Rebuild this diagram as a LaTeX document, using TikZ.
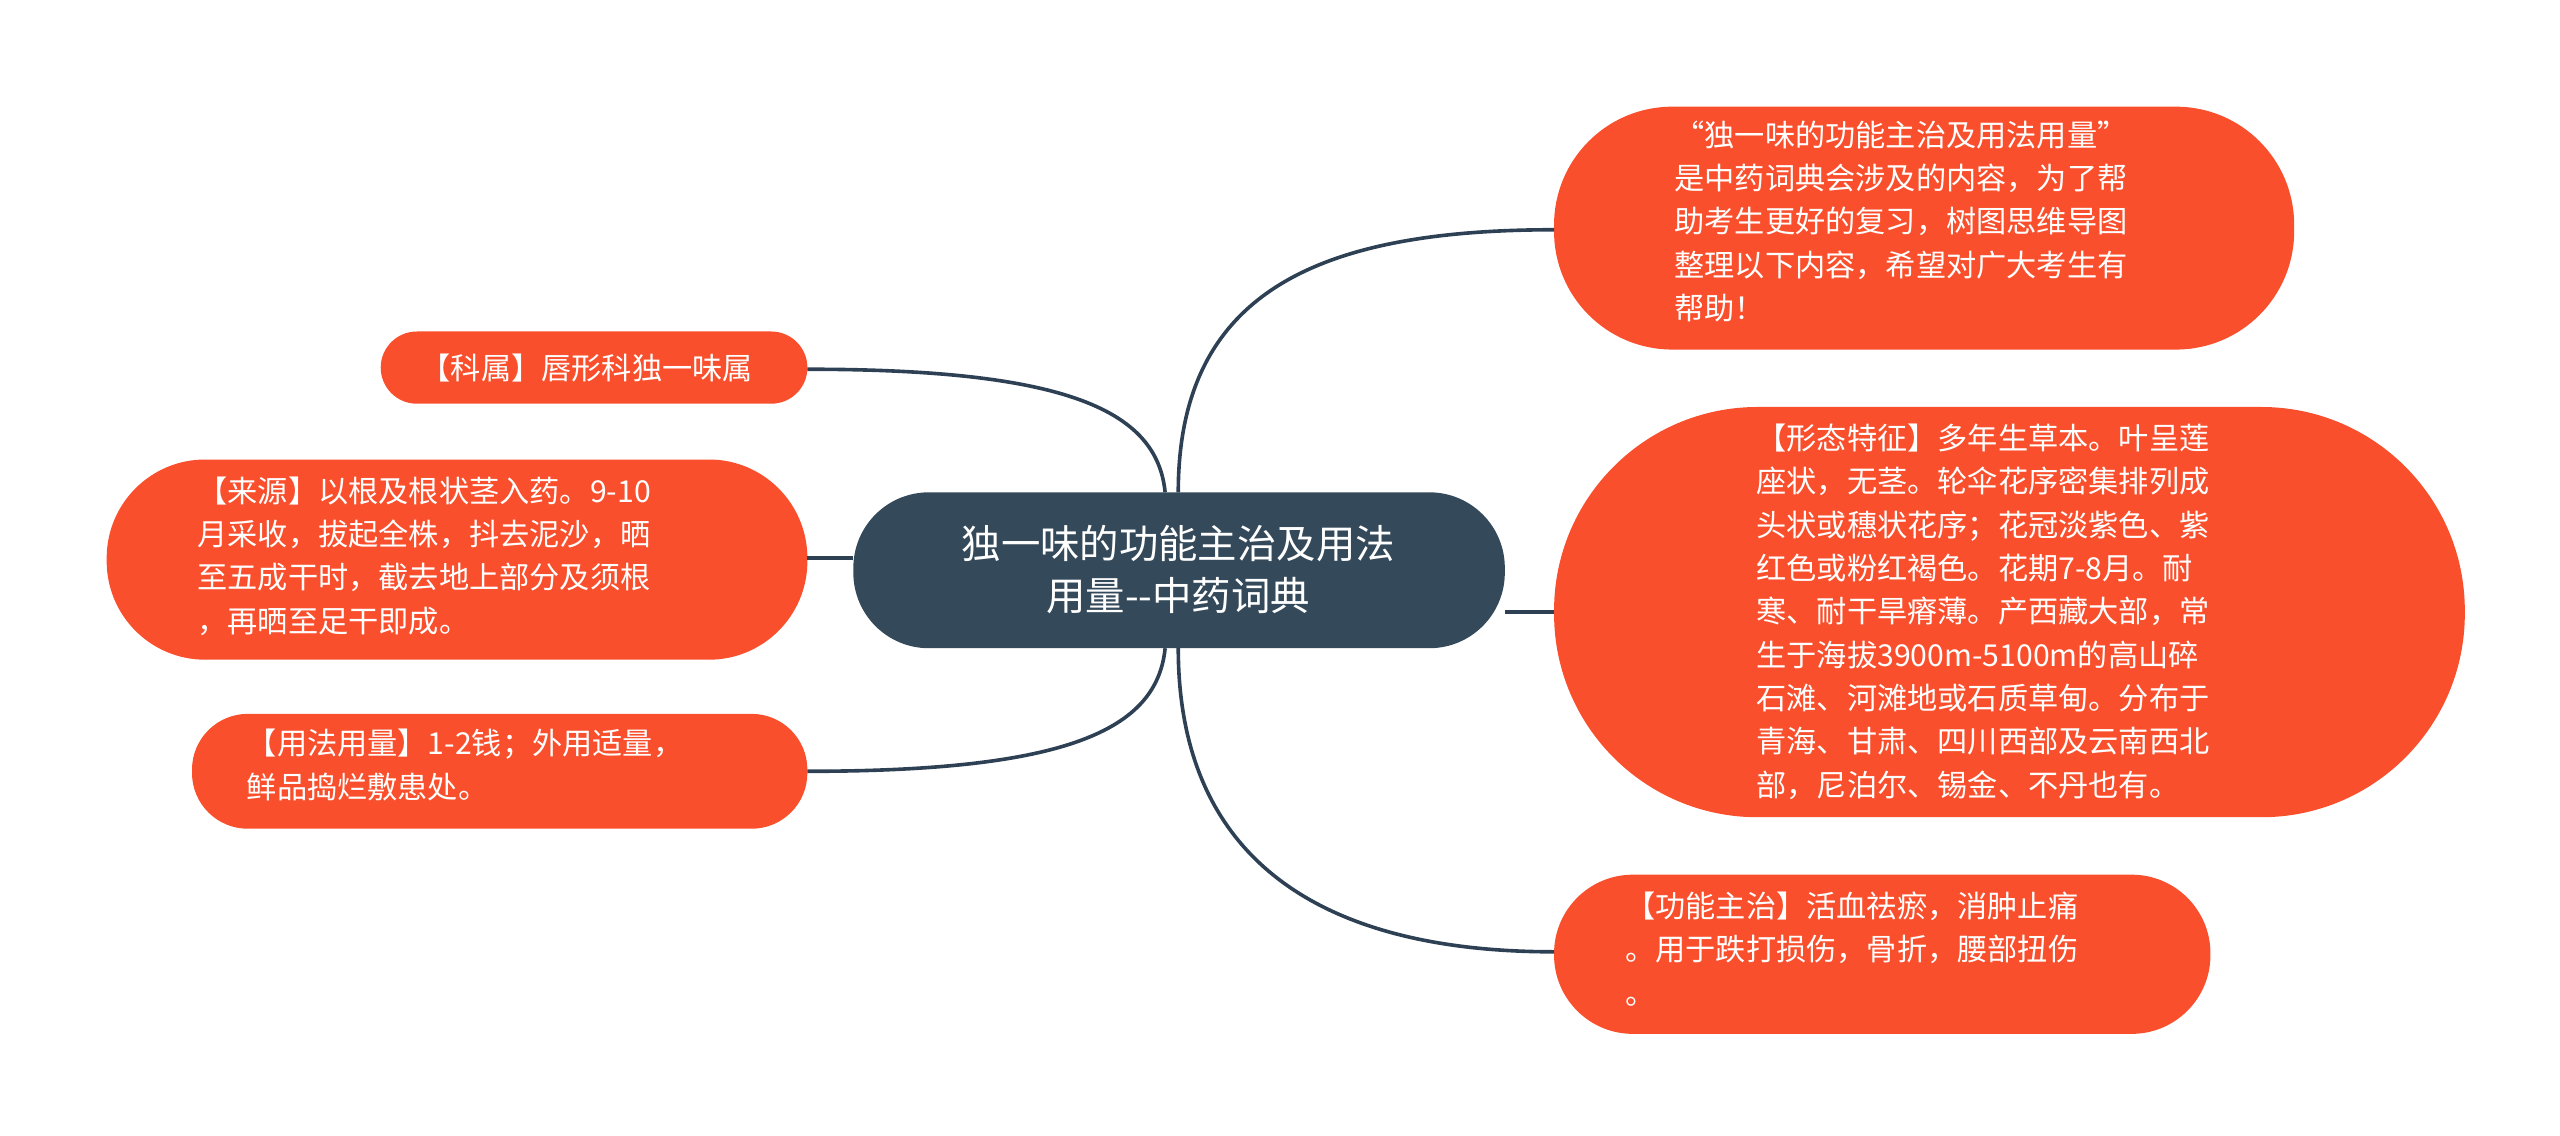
\documentclass[tikz,border=0pt]{standalone}
\usepackage{fontspec}
\setmainfont{Noto Sans CJK SC}
\definecolor{orng}{HTML}{FA4F2C}
\definecolor{dark}{HTML}{344A5B}
\definecolor{wire}{HTML}{2E4154}
\begin{document}
\begin{tikzpicture}[x=0.5pt,y=-0.5pt,
  leaf/.style={fill=orng,text=white,align=left,inner sep=0pt,font=\fontsize{9.2}{13.2}\selectfont},
  wirestyle/.style={draw=wire,line width=1.1pt}]
\useasboundingbox (0,0) rectangle (1560,692);
% boxes
\fill[dark,rounded corners=23pt] (520,300) rectangle (917,395);
\fill[orng,rounded corners=36pt] (947,65) rectangle (1398,213);
\fill[orng,rounded corners=62pt] (947,248) rectangle (1502,498);
\fill[orng,rounded corners=24pt] (947,533) rectangle (1347,630);
\fill[orng,rounded corners=11pt] (232,202) rectangle (492,246);
\fill[orng,rounded corners=30pt] (65,280) rectangle (492,402);
\fill[orng,rounded corners=17pt] (117,435) rectangle (492,505);
% nodes
\node[text=white,align=center,font=\fontsize{12}{16}\selectfont,inner sep=0pt] (c) at (718,347) {独一味的功能主治及用法\\用量{-}{-}中药词典};
\coordinate (ct) at (718,300);
\coordinate (cb) at (718,395);
\coordinate (cl) at (520,340);
\node[leaf,anchor=north west] (r1) at (1020,73) {“独一味的功能主治及用法用量”\\是中药词典会涉及的内容，为了帮\\助考生更好的复习，树图思维导图\\整理以下内容，希望对广大考生有\\帮助！};
\node[leaf,anchor=north west] (r2) at (1070,258) {【形态特征】多年生草本。叶呈莲\\座状，无茎。轮伞花序密集排列成\\头状或穗状花序；花冠淡紫色、紫\\红色或粉红褐色。花期7-8月。耐\\寒、耐干旱瘠薄。产西藏大部，常\\生于海拔3900m-5100m的高山碎\\石滩、河滩地或石质草甸。分布于\\青海、甘肃、四川西部及云南西北\\部，尼泊尔、锡金、不丹也有。};
\node[leaf,anchor=north west] (r3) at (990,543) {【功能主治】活血祛瘀，消肿止痛\\。用于跌打损伤，骨折，腰部扭伤\\。};
\node[leaf,anchor=west] (l1) at (256,224) {【科属】唇形科独一味属};
\node[leaf,anchor=north west] (l2) at (120,290) {【来源】以根及根状茎入药。9-10\\月采收，拔起全株，抖去泥沙，晒\\至五成干时，截去地上部分及须根\\，再晒至足干即成。};
\node[leaf,anchor=north west] (l3) at (150,444) {【用法用量】1-2钱；外用适量，\\鲜品捣烂敷患处。};
\coordinate (r1e) at (947,140);
\coordinate (r2e) at (947,373);
\coordinate (r3e) at (947,580);
\coordinate (l1e) at (492,225);
\coordinate (l2e) at (492,340);
\coordinate (l3e) at (492,470);
% connectors
\draw[wirestyle] (ct) .. controls (718,180) and (800,140) .. (r1e);
\draw[wirestyle] (917,373) -- (r2e);
\draw[wirestyle] (cb) .. controls (718,520) and (800,580) .. (r3e);
\draw[wirestyle] (l1e) .. controls (650,225) and (705,250) .. (710,300);
\draw[wirestyle] (l2e) -- (cl);
\draw[wirestyle] (l3e) .. controls (650,470) and (705,445) .. (710,395);
\end{tikzpicture}
\end{document}
